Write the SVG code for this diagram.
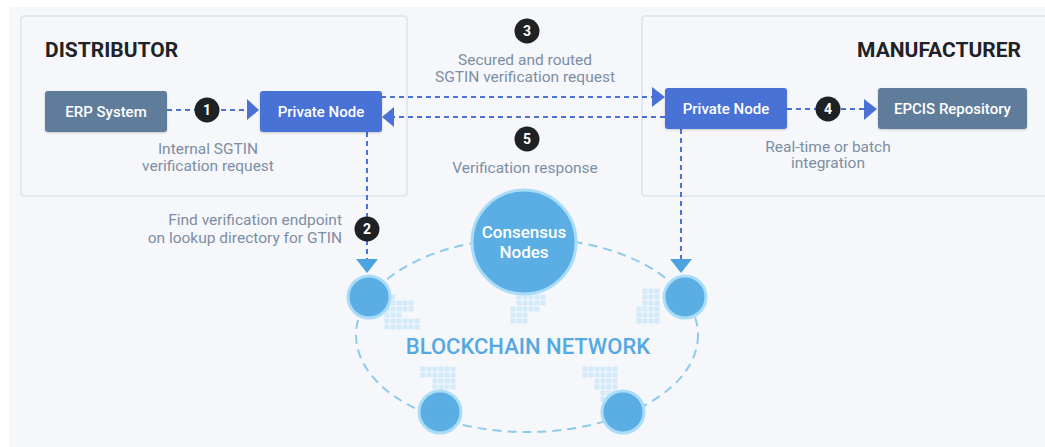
<svg xmlns="http://www.w3.org/2000/svg" width="1045" height="447" viewBox="0 0 1045 447">
<style>
  .panel{fill:#f5f7fa;stroke:#dbe5ea;stroke-width:1.5}
  .title{font-family:Roboto,"Liberation Sans",sans-serif;font-weight:700;font-size:21px;fill:#1f2226}
  .box-text{font-family:Roboto,"Liberation Sans",sans-serif;font-weight:500;font-size:15px;fill:#ffffff}
  .big-text{font-family:Roboto,"Liberation Sans",sans-serif;font-weight:500;font-size:17px;fill:#ffffff}
  .label{font-family:Roboto,"Liberation Sans",sans-serif;font-size:15.5px;fill:#7d8ea3}
  .num{font-family:Roboto,"Liberation Sans",sans-serif;font-weight:700;font-size:14px;fill:#ffffff}
  .badge{fill:#1f2224}
  .blue{fill:#4a72d6}
  .slate{fill:#5f7b9b}
  .dash{stroke:#4a72d6;stroke-width:2;stroke-dasharray:5 4;fill:none}
  .head{fill:#4a72d6}
  .headl{fill:#4da3e0}
  .net{fill:none;stroke:#8dcaee;stroke-width:2;stroke-dasharray:9 6}
  .node{fill:#5aaee4;stroke:#a9dcf6;stroke-width:3}
  .px{fill:url(#pix)}
</style>
<defs>
  <pattern id="pix" width="6" height="6" patternUnits="userSpaceOnUse">
    <rect x="0.5" y="0.5" width="5" height="5" fill="#d3eaf9"/>
  </pattern>
  <filter id="sh" x="-10%" y="-20%" width="120%" height="150%">
    <feDropShadow dx="0" dy="1" stdDeviation="1.2" flood-color="#000" flood-opacity="0.18"/>
  </filter>
</defs>
<rect x="0" y="0" width="1045" height="447" fill="#ffffff"/>
<rect x="9" y="7" width="1036" height="440" fill="#f5f7fb"/>

<g id="distributor">
  <rect class="panel" x="21" y="16" width="386" height="180" rx="3"/>
  <text class="title" x="45" y="57">DISTRIBUTOR</text>
</g>
<g id="manufacturer">
  <rect class="panel" x="642" y="16" width="420" height="180" rx="3"/>
  <text class="title" x="1021" y="57" text-anchor="end">MANUFACTURER</text>
</g>

<g id="network-ring">
  <ellipse class="net" cx="527" cy="335" rx="171" ry="97"/>
  <polygon class="px" points="390,294 396,294 396,300 414,300 414,312 402,312 402,318 420,318 420,330 384,330 384,306 390,306"/>
  <polygon class="px" points="516,294 546,294 546,306 540,306 540,312 528,312 528,324 510,324 510,306 516,306"/>
  <polygon class="px" points="642,288 660,288 660,324 636,324 636,306 642,306"/>
  <polygon class="px" points="420,366 456,366 456,390 432,390 432,378 420,378"/>
  <polygon class="px" points="582,366 618,366 618,402 600,402 600,390 594,390 594,378 582,378"/>
</g>

<g id="connectors">
  <line class="dash" x1="167" y1="110" x2="247" y2="110"/>
  <polygon class="head" points="247,99 247,120 259,110"/>
  <line class="dash" x1="381" y1="97" x2="652" y2="97"/>
  <polygon class="head" points="652,87 652,107 665,97"/>
  <line class="dash" x1="665" y1="117" x2="394" y2="117"/>
  <polygon class="head" points="394,107 394,127 382,117"/>
  <line class="dash" x1="787" y1="109" x2="864" y2="109"/>
  <polygon class="head" points="864,99 864,120 877,109"/>
  <line class="dash" x1="367" y1="132" x2="367" y2="259"/>
  <polygon class="headl" points="356,259 378,259 367,273"/>
  <line class="dash" x1="681" y1="129" x2="681" y2="259"/>
  <polygon class="headl" points="670,259 692,259 681,273"/>
</g>

<g id="erp-system">
  <rect class="slate" x="45" y="91" width="122" height="41" rx="3" filter="url(#sh)"/>
  <text class="box-text" x="106" y="116.5" text-anchor="middle">ERP System</text>
</g>
<g id="private-node-distributor">
  <rect class="blue" x="260" y="91" width="122" height="41" rx="3" filter="url(#sh)"/>
  <text class="box-text" x="321" y="116.5" text-anchor="middle">Private Node</text>
</g>
<g id="private-node-manufacturer">
  <rect class="blue" x="665" y="88" width="122" height="41" rx="3" filter="url(#sh)"/>
  <text class="box-text" x="726" y="113.5" text-anchor="middle">Private Node</text>
</g>
<g id="epcis-repository">
  <rect class="slate" x="878" y="88" width="149" height="41" rx="3" filter="url(#sh)"/>
  <text class="box-text" x="952.5" y="113.5" text-anchor="middle">EPCIS Repository</text>
</g>

<g id="step-1">
  <circle class="badge" cx="207" cy="110" r="12.5"/>
  <text class="num" x="207" y="115" text-anchor="middle">1</text>
  <text class="label" x="208" y="154" text-anchor="middle">Internal SGTIN</text>
  <text class="label" x="208" y="171" text-anchor="middle">verification request</text>
</g>
<g id="step-2">
  <circle class="badge" cx="367" cy="229" r="12.5"/>
  <text class="num" x="367" y="234" text-anchor="middle">2</text>
  <text class="label" x="342" y="225" text-anchor="end">Find verification endpoint</text>
  <text class="label" x="342" y="243" text-anchor="end">on lookup directory for GTIN</text>
</g>
<g id="step-3">
  <circle class="badge" cx="527" cy="31" r="12.5"/>
  <text class="num" x="527" y="36" text-anchor="middle">3</text>
  <text class="label" x="525" y="65" text-anchor="middle">Secured and routed</text>
  <text class="label" x="525" y="82" text-anchor="middle">SGTIN verification request</text>
</g>
<g id="step-4">
  <circle class="badge" cx="828" cy="109" r="12.5"/>
  <text class="num" x="828" y="114" text-anchor="middle">4</text>
  <text class="label" x="828" y="152" text-anchor="middle">Real-time or batch</text>
  <text class="label" x="828" y="168" text-anchor="middle">integration</text>
</g>
<g id="step-5">
  <circle class="badge" cx="527" cy="139" r="12.5"/>
  <text class="num" x="527" y="144" text-anchor="middle">5</text>
  <text class="label" x="525" y="173" text-anchor="middle">Verification response</text>
</g>

<g id="consensus-nodes">
  <circle class="node" cx="524" cy="242" r="52"/>
  <text class="big-text" x="524" y="238" text-anchor="middle">Consensus</text>
  <text class="big-text" x="524" y="258" text-anchor="middle">Nodes</text>
</g>
<g id="node-left"><circle class="node" cx="369" cy="297" r="21"/></g>
<g id="node-right"><circle class="node" cx="685" cy="297" r="21"/></g>
<g id="node-bottom-left"><circle class="node" cx="440" cy="412" r="21"/></g>
<g id="node-bottom-right"><circle class="node" cx="623" cy="412" r="21"/></g>

<g id="blockchain-network-label">
  <text x="528" y="354" text-anchor="middle" font-family="Roboto, 'Liberation Sans', sans-serif" font-weight="500" font-size="22" fill="#55a9e2">BLOCKCHAIN NETWORK</text>
</g>
</svg>
